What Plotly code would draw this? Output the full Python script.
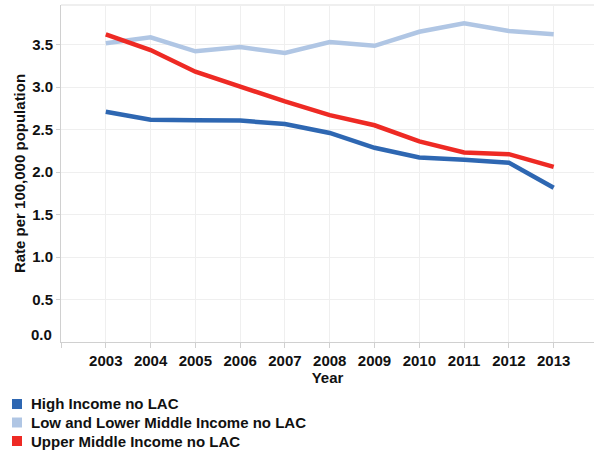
import plotly.graph_objects as go

years = [2003, 2004, 2005, 2006, 2007, 2008, 2009, 2010, 2011, 2012, 2013]
high_income = [2.71, 2.615, 2.61, 2.605, 2.565, 2.46, 2.285, 2.17, 2.145, 2.11, 1.815]
low_lower_middle = [3.515, 3.585, 3.42, 3.47, 3.40, 3.53, 3.485, 3.65, 3.75, 3.66, 3.62]
upper_middle = [3.62, 3.435, 3.18, 3.0, 2.83, 2.67, 2.55, 2.36, 2.23, 2.21, 2.06]

series_names = ["High Income no LAC", "Low and Lower Middle Income no LAC", "Upper Middle Income no LAC"]
series_values = [high_income, low_lower_middle, upper_middle]
colors = ["#2e67b2", "#b0c6e4", "#ee2a24"]

y_tickvals = [0.5, 1.0, 1.5, 2.0, 2.5, 3.0, 3.5]
y_ticktext = ["0.5", "1.0", "1.5", "2.0", "2.5", "3.0", "3.5"]

font_family = "Liberation Sans, Arial, sans-serif"
FS = 15

W, H = 594, 453
L, R, T, B = 61, 0, 5, 111
PW, PH = W - L - R, H - T - B


def px_to_paper(px, py):
    return (px - L) / PW, (H - B - py) / PH


fig = go.Figure()
for name, vals, c in zip(series_names, series_values, colors):
    fig.add_trace(go.Scatter(x=years, y=vals, mode="lines", name=name,
                             line=dict(color=c, width=4.5), showlegend=False))

fig.update_layout(
    width=W, height=H,
    margin=dict(l=L, r=R, t=T, b=B, autoexpand=False),
    plot_bgcolor="white", paper_bgcolor="white",
    font=dict(family=font_family, size=FS, color="#111111", weight="bold"),
    xaxis=dict(range=[2002, 2013.9], tickvals=[2002] + years,
               ticktext=[""] + [str(y) for y in years], tickangle=0,
               showgrid=True, gridcolor="#efefef", gridwidth=1,
               showline=True, linecolor="#d0d0d0", linewidth=1,
               ticks="outside", ticklen=5, tickcolor="#d0d0d0",
               zeroline=False,
               title=dict(text="Year", standoff=0, font=dict(size=FS, weight="bold")),
               tickfont=dict(size=FS, weight="bold")),
    yaxis=dict(range=[0, 3.965], tickvals=y_tickvals, ticktext=y_ticktext,
               showgrid=True, gridcolor="#efefef", gridwidth=1,
               showline=True, linecolor="#d0d0d0", linewidth=1,
               ticks="outside", ticklen=4, tickcolor="#d0d0d0",
               zeroline=False,
               title=dict(text="Rate per 100,000 population", standoff=2,
                          font=dict(size=FS, weight="bold")),
               tickfont=dict(size=FS, weight="bold")),
    showlegend=False,
)

fig.add_shape(type="line", xref="paper", yref="paper", x0=0, x1=1, y0=1, y1=1,
              line=dict(color="#efefef", width=2))

fig.add_annotation(x=0, y=0, xref="paper", yref="y", text="0.0", showarrow=False,
                   xanchor="right", yanchor="middle", xshift=-7, yshift=8,
                   font=dict(size=FS, weight="bold", family=font_family))

# legend (bottom left)
row_y = [404, 422.5, 441]
for name, c, ry in zip(series_names, colors, row_y):
    x0, y0 = px_to_paper(12, ry - 5)
    x1, y1 = px_to_paper(22, ry + 5)
    fig.add_shape(type="rect", xref="paper", yref="paper", x0=x0, x1=x1, y0=y1, y1=y0,
                  fillcolor=c, line=dict(width=0))
    tx, ty = px_to_paper(29, ry)
    fig.add_annotation(x=tx, y=ty, xref="paper", yref="paper", text=name,
                       showarrow=False, xanchor="left", yanchor="middle",
                       font=dict(size=FS, weight="bold", family=font_family))

fig.write_html("out.html", config={"displayModeBar": False},
               post_script="document.body.style.margin='0px';")
